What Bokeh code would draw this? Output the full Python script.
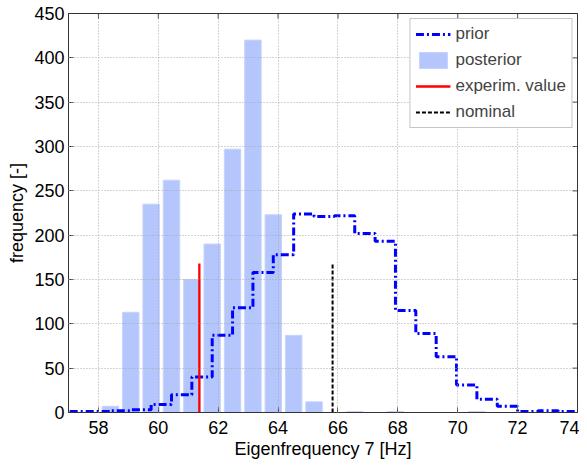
from bokeh.plotting import figure
from bokeh.models import Range1d, FixedTicker, Legend, LegendItem, ColumnDataSource
from bokeh.embed import file_html
from bokeh.resources import INLINE

# bin centres (Hz)
centers = [57.04, 57.72, 58.40, 59.08, 59.76, 60.44, 61.12, 61.80, 62.48, 63.16,
           63.84, 64.52, 65.20, 65.88, 66.56, 67.24, 67.92, 68.60, 69.28, 69.96,
           70.64, 71.32, 72.00, 72.68, 73.36, 74.04]
prior = [1, 1, 2, 3, 9, 20, 40, 87, 118, 158, 178, 224, 221, 222, 202, 193,
         115, 89, 63, 31, 15, 7, 1, 2, 1, 0]
posterior = [0, 0, 7, 113, 235, 262, 150, 190, 297, 420, 223, 87, 12, 0, 1, 0,
             1, 0, 0, 0, 1, 0, 0, 0, 0, 0]
experim_value = 61.37
nominal_value = 65.82
marker_height = 168

x_ticks = [58, 60, 62, 64, 66, 68, 70, 72, 74]
y_ticks = [0, 50, 100, 150, 200, 250, 300, 350, 400, 450]
x_min, x_max = 57, 74
y_min, y_max = 0, 450

FONT = "Liberation Sans"
AX = "#333333"

p = figure(width=579, height=461, output_backend="svg", toolbar_location=None,
           x_range=Range1d(x_min, x_max), y_range=Range1d(y_min, y_max),
           min_border_left=68, min_border_right=2, min_border_top=13, min_border_bottom=48)
p.background_fill_color = "white"
p.outline_line_color = AX

src = ColumnDataSource(dict(x=centers, prior=prior, post=posterior))
bars = p.vbar(x="x", top="post", width=0.55, source=src,
              fill_color="#b4c6fc", line_color="#c6d4fd", line_width=1)
prior_r = p.step(x="x", y="prior", source=src, mode="after", line_color="#0000ff",
                 line_width=3, line_dash="8 3 2 3")
exp_r = p.segment(x0=[experim_value], y0=[0], x1=[experim_value], y1=[marker_height],
                  line_color="#ff0000", line_width=2.3)
nom_r = p.segment(x0=[nominal_value], y0=[0], x1=[nominal_value], y1=[marker_height],
                  line_color="black", line_width=2, line_dash="4 2")

# inward tick marks on the top and right edges of the box
p.scatter(x=x_ticks, y=[y_max] * len(x_ticks), marker="dash", angle=1.5708,
          size=10, line_color=AX, line_width=1)
p.scatter(x=[x_max] * len(y_ticks), y=y_ticks, marker="dash",
          size=10, line_color=AX, line_width=1)

for ax in (p.xaxis[0], p.yaxis[0]):
    ax.major_tick_in = 5
    ax.major_tick_out = 0
    ax.minor_tick_in = 0
    ax.minor_tick_out = 0
    ax.axis_line_color = AX
    ax.major_tick_line_color = AX
    ax.major_label_text_font = FONT
    ax.major_label_text_font_size = "18px"
    ax.major_label_text_color = "black"
    ax.axis_label_text_font = FONT
    ax.axis_label_text_font_size = "18px"
    ax.axis_label_text_font_style = "normal"
    ax.axis_label_text_color = "black"

p.xaxis.ticker = FixedTicker(ticks=x_ticks)
p.yaxis.ticker = FixedTicker(ticks=y_ticks)
p.xaxis.axis_label = "Eigenfrequency 7 [Hz]"
p.yaxis.axis_label = "frequency [-]"
p.xaxis.major_label_standoff = 8
p.yaxis.major_label_standoff = 4
p.xaxis.axis_label_standoff = 2
p.yaxis.axis_label_standoff = 4

p.xgrid[0].ticker = FixedTicker(ticks=x_ticks)
p.ygrid[0].ticker = FixedTicker(ticks=y_ticks)
for g in (p.xgrid[0], p.ygrid[0]):
    g.grid_line_color = "#a8a8a8"
    g.grid_line_dash = "1 2"
    g.grid_line_width = 1
    g.level = "overlay"

legend = Legend(items=[
    LegendItem(label="prior", renderers=[prior_r]),
    LegendItem(label="posterior", renderers=[bars]),
    LegendItem(label="experim. value", renderers=[exp_r]),
    LegendItem(label="nominal", renderers=[nom_r]),
], location="top_right")
legend.label_text_font = FONT
legend.label_text_font_size = "17px"
legend.glyph_width = 35
legend.glyph_height = 20
legend.label_height = 20
legend.label_standoff = 5
legend.spacing = 6
legend.padding = 5
legend.margin = 5
legend.border_line_color = "#8c8c8c"
legend.border_line_width = 1
legend.background_fill_color = "white"
legend.background_fill_alpha = 1
p.add_layout(legend)

open("out.html", "w").write(file_html(p, INLINE))
